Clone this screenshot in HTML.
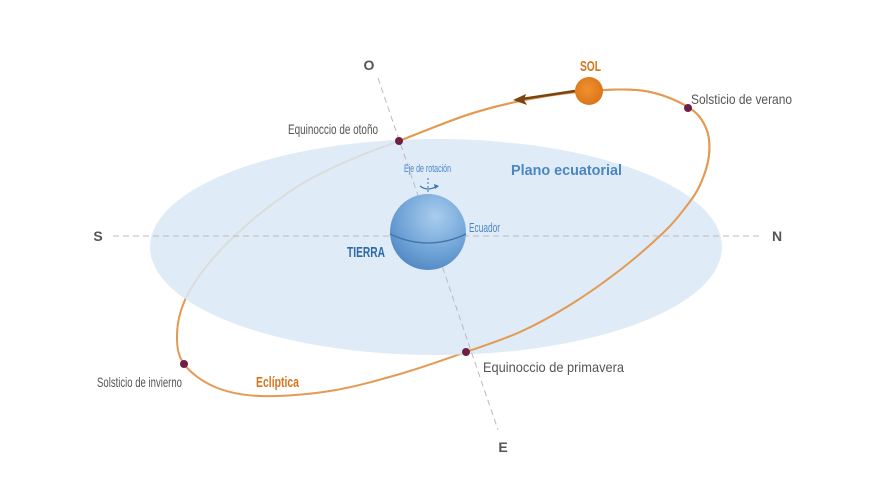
<!DOCTYPE html>
<html><head><meta charset="utf-8"><style>
body{margin:0;background:#fff}
svg{display:block}
text{font-family:"Liberation Sans Narrow","Liberation Sans",sans-serif}
</style></head><body>
<svg id="sv" width="880" height="495" viewBox="0 0 880 495">
<defs>
<radialGradient id="g" cx="0.6" cy="0.3" r="0.8">
<stop offset="0" stop-color="#a9cdee"/><stop offset="0.6" stop-color="#6fa3d6"/><stop offset="1" stop-color="#4a82be"/>
</radialGradient>
<radialGradient id="s" cx="0.45" cy="0.45" r="0.6">
<stop offset="0" stop-color="#f0922e"/><stop offset="1" stop-color="#d9741a"/>
</radialGradient>
</defs>
<path id="full" fill="none" stroke="#e39a52" stroke-width="2"/>
<ellipse cx="436" cy="247" rx="286" ry="108" fill="#d9e7f4" opacity="0.85"/>
<path id="front" fill="none" stroke="#e39a52" stroke-width="2"/>
<line x1="113" y1="236" x2="762" y2="236" stroke="#bbb" stroke-width="1" stroke-dasharray="6 4"/>
<line x1="378" y1="78" x2="498" y2="430" stroke="#bbb" stroke-width="1" stroke-dasharray="6 4"/>
<circle cx="428" cy="232" r="38" fill="url(#g)"/>
<path d="M390 234 Q428 252 466 234" fill="none" stroke="#3f74ad" stroke-width="1.3"/>
<line x1="428" y1="178" x2="428" y2="192" stroke="#3f74ad" stroke-dasharray="2 2"/>
<path d="M420 186 Q428 192 437 186" fill="none" stroke="#3f74ad" stroke-width="1.2"/>
<path d="M434 184 L439 186 L435 189 Z" fill="#3f74ad"/>
<line x1="575" y1="91" x2="522" y2="99" stroke="#7a4310" stroke-width="2.5"/>
<path d="M513 100 L526 94 L524 100 L527 105 Z" fill="#7a4310"/>
<circle cx="589" cy="91" r="14" fill="url(#s)"/>
<g fill="#6e1f45">
<circle cx="688" cy="108" r="4"/><circle cx="399" cy="141" r="4"/>
<circle cx="184" cy="364" r="4"/><circle cx="466" cy="352" r="4"/>
</g>
<g fill="#555" font-size="14">
<text x="369" y="70" text-anchor="middle" font-weight="bold" font-size="14">O</text>
<text x="503" y="452" text-anchor="middle" font-weight="bold" font-size="14">E</text>
<text x="98" y="241" text-anchor="middle" font-weight="bold" font-size="14">S</text>
<text x="777" y="241" text-anchor="middle" font-weight="bold" font-size="14">N</text>
<text x="288" y="134" textLength="90" lengthAdjust="spacingAndGlyphs">Equinoccio de otoño</text>
<text x="691" y="104" textLength="101" lengthAdjust="spacingAndGlyphs">Solsticio de verano</text>
<text x="97" y="387" textLength="85" lengthAdjust="spacingAndGlyphs">Solsticio de invierno</text>
<text x="483" y="372" textLength="141" lengthAdjust="spacingAndGlyphs">Equinoccio de primavera</text>
</g>
<text x="580" y="71" fill="#d9741a" font-weight="bold" font-size="15" textLength="21" lengthAdjust="spacingAndGlyphs">SOL</text>
<text x="256" y="387" fill="#d9741a" font-weight="bold" font-size="15" textLength="43" lengthAdjust="spacingAndGlyphs">Eclíptica</text>
<text x="511" y="175" fill="#4a86c4" font-weight="bold" font-size="15" textLength="111" lengthAdjust="spacingAndGlyphs">Plano ecuatorial</text>
<text x="347" y="257" fill="#2f6aa8" font-weight="bold" font-size="15" textLength="38" lengthAdjust="spacingAndGlyphs">TIERRA</text>
<text x="469" y="232" fill="#4a86c4" font-size="13" textLength="31" lengthAdjust="spacingAndGlyphs">Ecuador</text>
<text x="404" y="172" fill="#4a86c4" font-size="11" textLength="47" lengthAdjust="spacingAndGlyphs">Eje de rotación</text>
</svg>
<script>
var P=[[399,141],[470,114],[530,99],[589,91],[645,91],[688,107],[706,128],[709,155],[700,185],[685,208],[663,233],[620,270],[570,305],[520,332],[466,352],[400,374],[330,391],[260,396],[215,387],[184,364],[177,335],[185,300],[210,262],[250,222],[300,185],[350,160]];
var n=P.length;
function seg(i){var p0=P[(i-1+n)%n],p1=P[i],p2=P[(i+1)%n],p3=P[(i+2)%n];
return " C"+(p1[0]+(p2[0]-p0[0])/6)+" "+(p1[1]+(p2[1]-p0[1])/6)+" "+(p2[0]-(p3[0]-p1[0])/6)+" "+(p2[1]-(p3[1]-p1[1])/6)+" "+p2[0]+" "+p2[1];}
var d="M"+P[0][0]+" "+P[0][1];for(var i=0;i<n;i++)d+=seg(i);
document.getElementById("full").setAttribute("d",d+"Z");
var f="M"+P[0][0]+" "+P[0][1];for(var i=0;i<14;i++)f+=seg(i);
document.getElementById("front").setAttribute("d",f);
</script>
</body></html>
